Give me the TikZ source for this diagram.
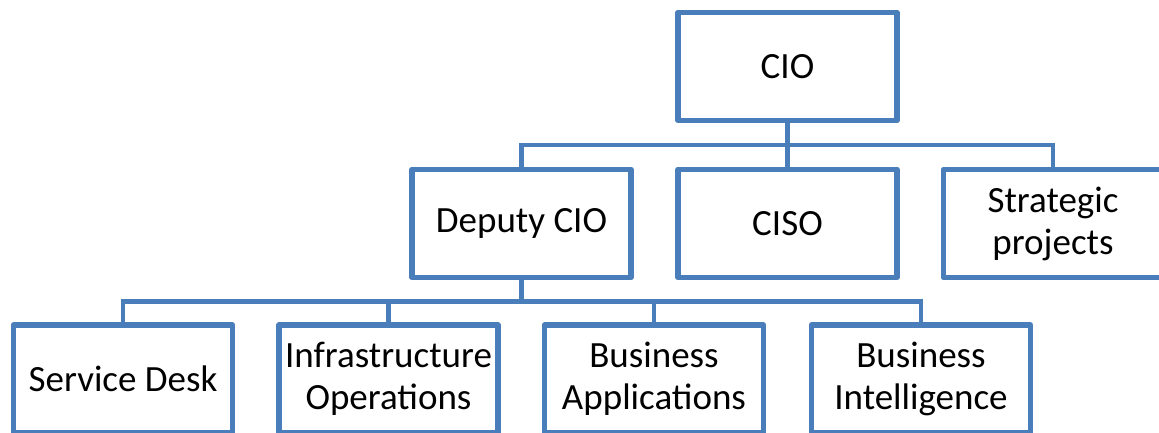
\documentclass[tikz,border=0pt]{standalone}
\usepackage{fontspec}
\setmainfont{Carlito}
\usetikzlibrary{positioning,calc}
\definecolor{orgblue}{HTML}{4A7EBB}
\tikzset{
  % --- boxes ---------------------------------------------------------------
  unit/.style  ={rectangle, draw=orgblue, line width=5.5pt, fill=white,
                 line join=round,
                 minimum width=219pt, minimum height=108pt, align=center,
                 inner sep=2pt, text=black,
                 font=\fontsize{37}{42}\selectfont},
  % --- reporting lines -----------------------------------------------------
  link/.style  ={draw=orgblue, line width=4.8pt},
}

\begin{document}
\begin{tikzpicture}[x=1pt, y=-1pt]
  \useasboundingbox (0,0) rectangle (1159,432);

  % ============================ top ============================
  \node[unit] (cio) at (787.5,66.5) {CIO};

  % ============================ direct reports ============================
  \node[unit] (dep)  at (521.5,223.5) {Deputy CIO};
  \node[unit] (ciso) at (787.5,223.5) {CISO};
  \node[unit] (sp)   at (1053,223.5)  {Strategic\\projects};

  % ============================ deputy's teams ============================
  \node[unit] (sd) at (123,379)   {Service Desk};
  \node[unit] (ia) at (388.5,379) {Infrastructure\\Operations};
  \node[unit] (ba) at (654,379)   {Business\\Applications};
  \node[unit] (bi) at (921,379)   {Business\\Intelligence};

  % ============================ reporting lines ============================
  \coordinate (bar1) at ($(cio.south)!0.5!(ciso.north)$);
  \coordinate (bar2) at ($(dep.south)!0.5!(dep.south |- sd.north)$);

  \draw[link] (dep.north) |- (bar1) -| (sp.north);
  \draw[link] (cio.south) -- (ciso.north);

  \draw[link] (sd.north) |- (bar2) -| (bi.north);
  \draw[link] (dep.south) -- (bar2);
  \foreach \n in {ia,ba}
    \draw[link] (\n.north) -- (\n.north |- bar2);

\end{tikzpicture}
\end{document}
